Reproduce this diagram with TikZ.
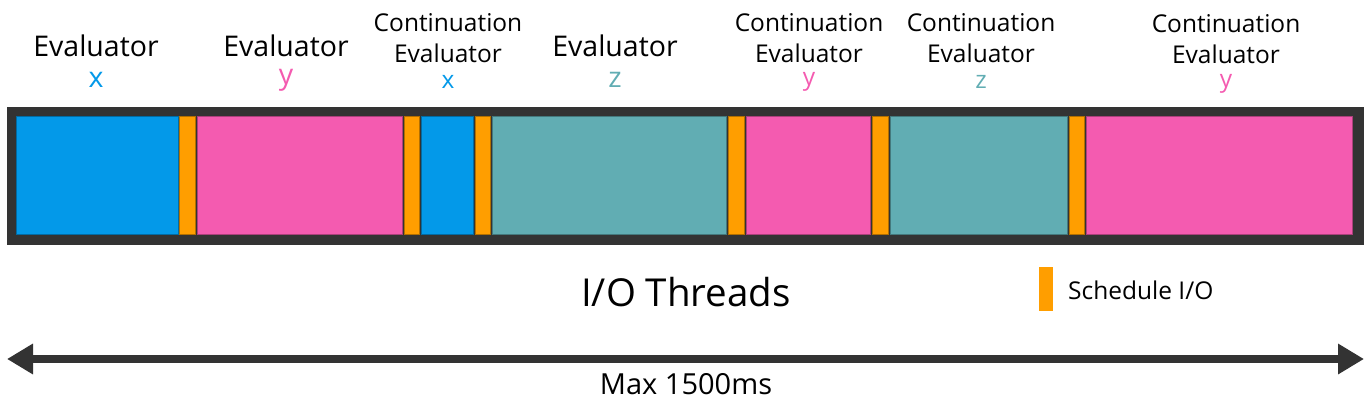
\documentclass[tikz,border=0pt]{standalone}
\usepackage{fontspec}
\setmainfont{Open Sans}
\usetikzlibrary{arrows.meta,positioning}

\definecolor{evx}{HTML}{0399E9}
\definecolor{evy}{HTML}{F45BB0}
\definecolor{evz}{HTML}{61ADB3}
\definecolor{sched}{HTML}{FF9E00}
\definecolor{frame}{HTML}{333333}

\newcommand{\bigtxt}{\fontsize{28.5}{31}\selectfont}
\newcommand{\smalltxt}{\fontsize{24.5}{31}\selectfont}

\begin{document}
\begin{tikzpicture}
	[x=1pt,y=-1pt,
	 blk/.style={draw=#1!70!black,fill=#1,line width=0.8pt,minimum height=118pt,inner sep=0pt},
	 lbl/.style={inner sep=0pt,text=black,font=\bigtxt},
	 clbl/.style={inner sep=0pt,text=black,font=\smalltxt,align=center},
	]
	\tikzset{span arrow/.style={draw=frame,line width=8pt,{Triangle[length=26pt,width=29pt]}-{Triangle[length=26pt,width=29pt]}}}
	\useasboundingbox (0,0) rectangle (1372,406);

	% the thread bar
	\node[fill=frame,minimum width=1357pt,minimum height=138pt,inner sep=0pt] (bar) at (685.5,176) {};

	\foreach \n/\xa/\xb/\c in {x-1/16/178/evx, s-1/179.5/195.3/sched, y-1/197/402.7/evy,
		s-2/404.3/419.7/sched, x-2/421.7/473/evx, s-3/475/490/sched, z-1/492.5/726.7/evz,
		s-4/728.7/744/sched, y-2/746/870.7/evy, s-5/872/888/sched, z-2/890/1067/evz,
		s-6/1069/1084.7/sched, y-3/1086.7/1352.7/evy}
	{
		\node[blk=\c,minimum width={\xb-\xa}] (\n) at ({(\xa+\xb)/2},175) {};
	}

	% labels over the blocks
	\node[lbl] (e-1) at (96,46) {Evaluator};
	\node[lbl,text=evx] (t-1) at (96,80) {x};
	\node[lbl] (e-2) at (286,46) {Evaluator};
	\node[lbl,text=evy] (t-2) at (286,80) {y};
	\node[clbl] (e-3) at (448,38) {Continuation\\Evaluator};
	\node[clbl,text=evx] (t-3) at (448,82) {x};
	\node[lbl] (e-4) at (615,46) {Evaluator};
	\node[lbl,text=evz] (t-4) at (615,80) {z};
	\node[clbl] (e-5) at (809,38) {Continuation\\Evaluator};
	\node[clbl,text=evy] (t-5) at (809,82) {y};
	\node[clbl] (e-6) at (981,38) {Continuation\\Evaluator};
	\node[clbl,text=evz] (t-6) at (981,82) {z};
	\node[clbl] (e-7) at (1226,39) {Continuation\\Evaluator};
	\node[clbl,text=evy] (t-7) at (1226,84) {y};

	\node[lbl,font=\fontsize{38.5}{42}\selectfont] (io) at (686,292) {I/O Threads};

	% legend
	\node[fill=sched,minimum width=14pt,minimum height=44pt,inner sep=0pt] (key) at (1046,289) {};
	\node[lbl,anchor=west,font=\fontsize{24.5}{28}\selectfont] (keytxt) at (1068,290) {Schedule I/O};

	% time span
	\coordinate (left) at (7,359);
	\coordinate (right) at (1364,359);
	\path[span arrow] (left) -- (right);
	\node[lbl,font=\fontsize{29}{32}\selectfont] (max) at (686,384) {Max 1500ms};
\end{tikzpicture}
\end{document}
